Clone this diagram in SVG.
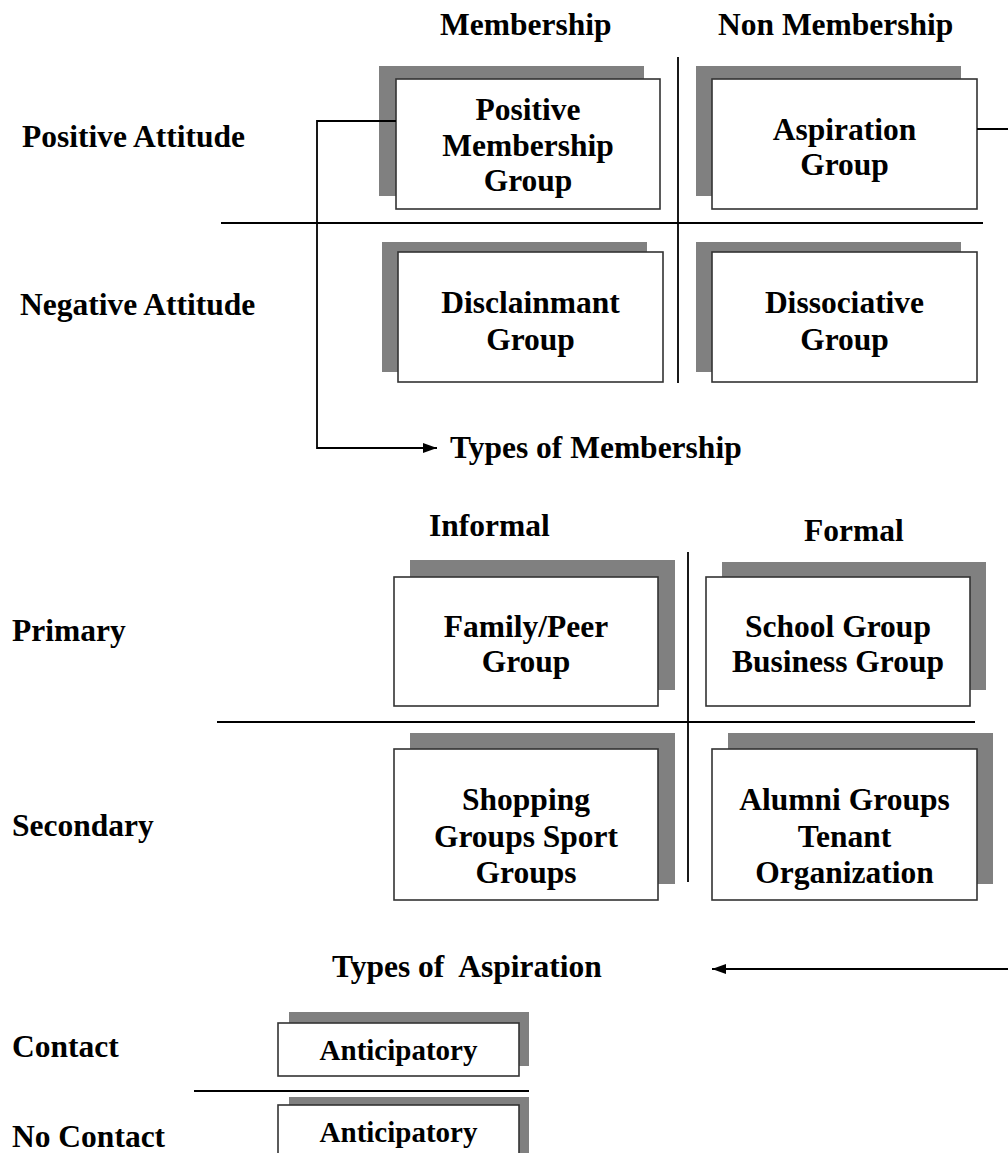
<svg xmlns="http://www.w3.org/2000/svg" width="1008" height="1153" viewBox="0 0 1008 1153">
<defs>
<marker id="ah" markerWidth="14" markerHeight="10" refX="14" refY="5" orient="auto" markerUnits="userSpaceOnUse">
<path d="M0,0 L14,5 L0,10 Z" fill="#000"/>
</marker>
<style>
text{font-family:"Liberation Serif","Times New Roman",serif;font-weight:bold;fill:#000;font-size:31.5px}
.c{text-anchor:middle}
.sm{font-size:29px}
.sh{fill:#808080}
.bx{fill:#fff;stroke:#333;stroke-width:1.6}
.ln{stroke:#000;stroke-width:1.8;fill:none}
</style>
</defs>
<rect width="1008" height="1153" fill="#fff"/>

<g id="labels">
<text x="440" y="35">Membership</text>
<text x="718" y="35">Non Membership</text>
<text x="22" y="147">Positive Attitude</text>
<text x="20" y="315">Negative Attitude</text>
<text x="450" y="458">Types of Membership</text>
<text x="429" y="536">Informal</text>
<text x="804" y="541">Formal</text>
<text x="12" y="641">Primary</text>
<text x="12" y="836">Secondary</text>
<text x="332" y="977" style="white-space:pre">Types of  Aspiration</text>
<text x="12" y="1057">Contact</text>
<text x="12" y="1147">No Contact</text>
</g>

<g id="dividers">
<line class="ln" x1="221" y1="223" x2="983" y2="223"/>
<line class="ln" x1="678" y1="57" x2="678" y2="383"/>
<line class="ln" x1="217" y1="722" x2="975" y2="722"/>
<line class="ln" x1="688" y1="552" x2="688" y2="882"/>
<line class="ln" x1="194" y1="1091" x2="529" y2="1091"/>
</g>

<g id="positive-membership">
<rect class="sh" x="379" y="66" width="265" height="130"/>
<rect class="bx" x="396" y="79" width="264" height="130"/>
<text class="c" x="528" y="120">Positive</text>
<text class="c" x="528" y="156">Membership</text>
<text class="c" x="528" y="191">Group</text>
</g>
<g id="aspiration">
<rect class="sh" x="696" y="66" width="265" height="130"/>
<rect class="bx" x="712" y="79" width="265" height="130"/>
<text class="c" x="844.5" y="140">Aspiration</text>
<text class="c" x="844.5" y="175">Group</text>
</g>
<g id="disclainmant">
<rect class="sh" x="382" y="242" width="265" height="130"/>
<rect class="bx" x="398" y="252" width="265" height="130"/>
<text class="c" x="530.5" y="313">Disclainmant</text>
<text class="c" x="530.5" y="350">Group</text>
</g>
<g id="dissociative">
<rect class="sh" x="696" y="242" width="265" height="130"/>
<rect class="bx" x="712" y="252" width="265" height="130"/>
<text class="c" x="844.5" y="313">Dissociative</text>
<text class="c" x="844.5" y="350">Group</text>
</g>
<g id="family">
<rect class="sh" x="410" y="560" width="265" height="130"/>
<rect class="bx" x="394" y="577" width="264" height="129"/>
<text class="c" x="526" y="637">Family/Peer</text>
<text class="c" x="526" y="672">Group</text>
</g>
<g id="school">
<rect class="sh" x="722" y="562" width="264" height="128"/>
<rect class="bx" x="706" y="577" width="264" height="129"/>
<text class="c" x="838" y="637">School Group</text>
<text class="c" x="838" y="672">Business Group</text>
</g>
<g id="shopping">
<rect class="sh" x="410" y="733" width="265" height="151"/>
<rect class="bx" x="394" y="749" width="264" height="151"/>
<text class="c" x="526" y="810">Shopping</text>
<text class="c" x="526" y="847">Groups Sport</text>
<text class="c" x="526" y="883">Groups</text>
</g>
<g id="alumni">
<rect class="sh" x="728" y="733" width="265" height="151"/>
<rect class="bx" x="712" y="749" width="265" height="151"/>
<text class="c" x="844.5" y="810">Alumni Groups</text>
<text class="c" x="844.5" y="847">Tenant</text>
<text class="c" x="844.5" y="883">Organization</text>
</g>
<g id="anticipatory-contact">
<rect class="sh" x="289" y="1012" width="240" height="54"/>
<rect class="bx" x="278" y="1023" width="241" height="53"/>
<text class="c sm" x="398.5" y="1060">Anticipatory</text>
</g>
<g id="anticipatory-nocontact">
<rect class="sh" x="289" y="1097" width="240" height="70"/>
<rect class="bx" x="278" y="1105" width="241" height="70"/>
<text class="c sm" x="398.5" y="1142">Anticipatory</text>
</g>

<g id="connectors">
<path class="ln" d="M396,121 H317 V448 H437" marker-end="url(#ah)"/>
<line class="ln" x1="977" y1="129" x2="1010" y2="129"/>
<line class="ln" x1="1010" y1="969" x2="712" y2="969" marker-end="url(#ah)"/>
</g>
</svg>
